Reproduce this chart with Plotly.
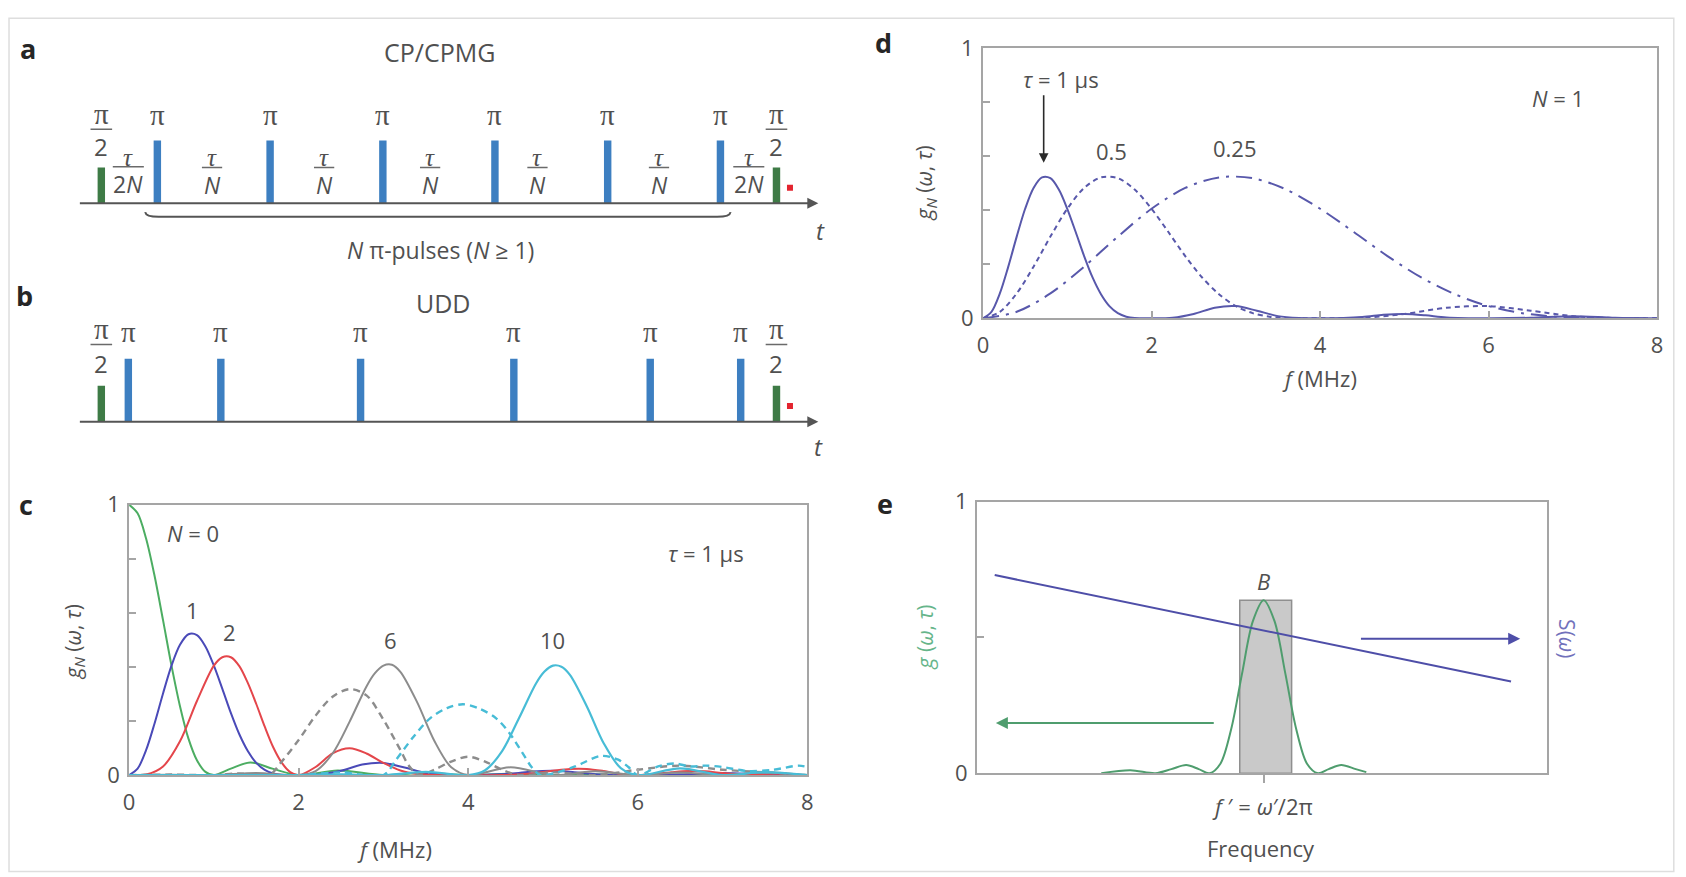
import plotly.graph_objects as go

W, H = 1686, 877

# ---------------- data ----------------
# panel a / b : pulse sequences, time in units of tau
cp_pi_times = [0.083, 0.25, 0.417, 0.583, 0.75, 0.917]
udd_pi_times = [0.04, 0.177, 0.384, 0.611, 0.813, 0.947]
half_pi_times = [0.0, 1.0]
pi_amplitude = 1.0
half_pi_amplitude = 0.57
readout_t = [1.02]
readout_y = [0.25]
cp_gap_label_t = [0.164, 0.33, 0.487, 0.646, 0.826]
half_gap_label_t = [0.04, 0.959]

# panel c : g_N(w, tau), tau = 1 us
f_n0 = [0, 0.1, 0.2, 0.3, 0.4, 0.5, 0.6, 0.7, 0.8, 0.9, 1.0, 1.2, 1.43, 1.7, 2.0, 2.46, 3.0, 3.47, 4.0, 4.48,
        5.0, 5.48, 6.0, 6.5, 7.0, 7.5, 8.0]
g_n0 = [1.0, 0.968, 0.875, 0.737, 0.573, 0.405, 0.255, 0.135, 0.055, 0.012, 0.0, 0.024, 0.047, 0.023, 0.0, 0.017,
        0.0, 0.008, 0.0, 0.005, 0.0, 0.003, 0.0, 0.002, 0.0, 0.002, 0.0]
f_n1 = [0, 0.1, 0.2, 0.3, 0.4, 0.5, 0.6, 0.7, 0.8, 0.9, 1.0, 1.1, 1.2, 1.3, 1.4, 1.5, 1.6, 1.7, 1.8, 2.0, 2.25,
        2.5, 2.75, 3.0, 3.25, 3.5, 3.75, 4.0, 4.5, 4.75, 5.0, 5.25, 5.5, 6.0, 6.5, 7.0, 7.5, 8.0]
g_n1 = [0, 0.024, 0.092, 0.191, 0.302, 0.405, 0.482, 0.521, 0.518, 0.476, 0.405, 0.319, 0.230, 0.151, 0.089,
        0.045, 0.019, 0.006, 0.001, 0.0, 0.002, 0.016, 0.039, 0.045, 0.028, 0.008, 0.001, 0.0, 0.005, 0.013,
        0.016, 0.011, 0.003, 0.0, 0.002, 0.008, 0.002, 0.0]
f_n2 = [0, 0.2, 0.4, 0.6, 0.8, 1.0, 1.1, 1.2, 1.3, 1.4, 1.5, 1.6, 1.7, 1.8, 1.9, 2.0, 2.2, 2.4, 2.6, 2.8, 3.0,
        3.2, 3.4, 3.6, 4.0, 4.4, 4.8, 5.0, 5.2, 5.4, 5.6, 5.8, 6.0, 6.4, 6.6, 6.8, 7.0, 7.4, 8.0]
g_n2 = [0, 0.002, 0.032, 0.125, 0.274, 0.405, 0.436, 0.436, 0.403, 0.341, 0.263, 0.179, 0.103, 0.046, 0.011,
        0.0, 0.030, 0.080, 0.099, 0.080, 0.045, 0.017, 0.004, 0.0, 0.0, 0.0, 0.008, 0.016, 0.023, 0.023, 0.015,
        0.004, 0.0, 0.011, 0.015, 0.014, 0.008, 0.001, 0.0]
f_n6 = [0, 0.5, 1.0, 1.5, 2.0, 2.2, 2.4, 2.6, 2.8, 2.9, 3.0, 3.1, 3.2, 3.4, 3.6, 3.8, 4.0, 4.5, 5.0, 5.5, 6.0,
        6.5, 7.0, 7.5, 8.0]
g_n6 = [0, 0.001, 0.0, 0.008, 0.0, 0.015, 0.080, 0.197, 0.328, 0.377, 0.405, 0.408, 0.382, 0.268, 0.127, 0.029,
        0.0, 0.029, 0.0, 0.014, 0.0, 0.010, 0.0, 0.011, 0.0]
f_n10 = [0, 1, 2, 2.5, 3, 3.5, 4.0, 4.2, 4.4, 4.6, 4.8, 4.9, 5.0, 5.1, 5.2, 5.4, 5.6, 5.8, 6.0, 6.5, 7.0, 7.5, 8.0]
g_n10 = [0, 0, 0, 0.003, 0, 0.012, 0, 0.018, 0.089, 0.211, 0.339, 0.383, 0.405, 0.401, 0.371, 0.254, 0.117,
         0.026, 0, 0.025, 0, 0.011, 0]
f_gray_dash = [0, 0.5, 1.0, 1.3, 1.65, 1.8, 2.0, 2.2, 2.4, 2.6, 2.8, 3.0, 3.2, 3.3, 3.42, 3.6, 3.8, 4.0, 4.2, 4.4,
               4.6, 5.0, 5.5, 6.0, 6.5, 7.0, 7.5, 8.0]
g_gray_dash = [0, 0.002, 0, 0.006, 0, 0.05, 0.13, 0.22, 0.29, 0.318, 0.295, 0.205, 0.093, 0.035, 0, 0.02, 0.05,
               0.068, 0.05, 0.02, 0, 0.01, 0, 0.02, 0.035, 0.02, 0.01, 0]
f_cyan_dash = [0, 1, 2, 2.5, 3.0, 3.15, 3.35, 3.55, 3.75, 3.94, 4.13, 4.33, 4.49, 4.64, 4.75, 4.85, 5.0, 5.26,
               5.57, 5.77, 5.89, 6.0, 6.24, 6.43, 6.62, 6.8, 7.0, 7.3, 7.6, 7.9, 8.0]
g_cyan_dash = [0, 0, 0, 0.01, 0, 0.057, 0.14, 0.21, 0.248, 0.262, 0.246, 0.21, 0.154, 0.082, 0.029, 0, 0.006,
               0.032, 0.071, 0.057, 0.03, 0, 0.032, 0.043, 0.032, 0.035, 0.03, 0.015, 0.02, 0.035, 0.03]

# panel d : N = 1, tau = 1, 0.5, 0.25 us
f_tau1 = f_n1
g_tau1 = g_n1
f_tau05 = [0, 0.2, 0.4, 0.6, 0.8, 1.0, 1.2, 1.4, 1.6, 1.8, 2.0, 2.2, 2.4, 2.6, 2.8, 3.0, 3.2, 3.4, 3.6, 4.0, 4.5,
           5.0, 5.5, 6.0, 6.5, 7.0, 7.5, 8.0]
g_tau05 = [0, 0.024, 0.092, 0.191, 0.302, 0.405, 0.482, 0.521, 0.518, 0.476, 0.405, 0.319, 0.230, 0.151, 0.089,
           0.045, 0.019, 0.006, 0.001, 0.0, 0.002, 0.016, 0.039, 0.045, 0.028, 0.008, 0.001, 0.0]
f_tau025 = [0, 0.4, 0.8, 1.2, 1.6, 2.0, 2.4, 2.8, 3.2, 3.6, 4.0, 4.4, 4.8, 5.2, 5.6, 6.0, 6.4, 6.8, 7.2, 8.0]
g_tau025 = [0, 0.024, 0.092, 0.191, 0.302, 0.405, 0.482, 0.521, 0.518, 0.476, 0.405, 0.319, 0.230, 0.151, 0.089,
            0.045, 0.019, 0.006, 0.001, 0.0]

# panel e : filter g(w,tau) and noise spectrum S(w), arbitrary frequency units
freq_e = [2.18, 2.69, 3.13, 3.41, 3.67, 3.89, 4.08, 4.27, 4.46, 4.65, 4.84, 5.03, 5.22, 5.41, 5.60, 5.79, 5.98,
          6.17, 6.39, 6.645, 6.83]
g_e = [0, 0.011, 0, 0.015, 0.030, 0.015, 0, 0.035, 0.163, 0.367, 0.56, 0.637, 0.56, 0.367, 0.163, 0.035, 0,
       0.015, 0.030, 0.015, 0.004]
freq_s = [0.31, 9.37]
s_e = [0.73, 0.338]
band_center = [5.065]
band_width = 0.91
band_height = [0.637]
f_prime = 5.03

# ---------------- styles ----------------
SANS = "Open Sans, Noto Sans, sans-serif"
SERIF = "Liberation Serif, DejaVu Serif, serif"
TXT = "#505050"
FRAME = "#a5a5a5"
BLUE_P, GREEN_P, RED_P = "#3d7fc1", "#3e7b46", "#e3242f"
C_N0, C_N1, C_N2, C_N6, C_N10 = "#4cad62", "#4a4ab8", "#e4464b", "#8c8c8c", "#47bcd6"
C_D = "#5858ab"
C_EB, C_EG = "#4e4ea8", "#4f9d6e"

fig = go.Figure()

# ---- panel a ----
fig.add_trace(go.Bar(x=cp_pi_times, y=[pi_amplitude] * len(cp_pi_times), width=0.011,
                     marker=dict(color=BLUE_P, line_width=0), xaxis="x", yaxis="y"))
fig.add_trace(go.Bar(x=half_pi_times, y=[half_pi_amplitude] * len(half_pi_times), width=0.011,
                     marker=dict(color=GREEN_P, line_width=0), xaxis="x", yaxis="y"))
fig.add_trace(go.Scatter(x=readout_t, y=readout_y, mode="markers",
                         marker=dict(symbol="square", size=6, color=RED_P), xaxis="x", yaxis="y"))
# ---- panel b ----
fig.add_trace(go.Bar(x=udd_pi_times, y=[pi_amplitude] * len(udd_pi_times), width=0.011,
                     marker=dict(color=BLUE_P, line_width=0), xaxis="x2", yaxis="y2"))
fig.add_trace(go.Bar(x=half_pi_times, y=[half_pi_amplitude] * len(half_pi_times), width=0.011,
                     marker=dict(color=GREEN_P, line_width=0), xaxis="x2", yaxis="y2"))
fig.add_trace(go.Scatter(x=readout_t, y=readout_y, mode="markers",
                         marker=dict(symbol="square", size=6, color=RED_P), xaxis="x2", yaxis="y2"))


# ---- panel c ----
def curve(x, y, color, ax, width=2.0, dash="solid"):
    fig.add_trace(go.Scatter(x=x, y=y, mode="lines", xaxis="x" + ax, yaxis="y" + ax,
                             line=dict(color=color, width=width, dash=dash, shape="spline", smoothing=0.9)))


curve(f_n0, g_n0, C_N0, "3")
curve(f_n1, g_n1, C_N1, "3")
curve(f_n2, g_n2, C_N2, "3")
curve(f_n6, g_n6, C_N6, "3")
curve(f_gray_dash, g_gray_dash, C_N6, "3", 2.4, "7px,5px")
curve(f_cyan_dash, g_cyan_dash, C_N10, "3", 2.4, "7px,5px")
curve(f_n10, g_n10, C_N10, "3", 2.2)

# ---- panel d ----
curve(f_tau1, g_tau1, C_D, "4", 2.0)
curve(f_tau05, g_tau05, C_D, "4", 2.0, "5px,4px")
curve(f_tau025, g_tau025, C_D, "4", 2.0, "16px,7px,3px,7px")

# ---- panel e ----
fig.add_trace(go.Bar(x=band_center, y=band_height, width=band_width, xaxis="x5", yaxis="y5",
                     marker=dict(color="#c9c9c9", line=dict(color="#8f8f8f", width=1.5))))
fig.add_trace(go.Scatter(x=freq_e, y=g_e, mode="lines", xaxis="x5", yaxis="y5",
                         line=dict(color=C_EG, width=2, shape="spline", smoothing=0.9)))
fig.add_trace(go.Scatter(x=freq_s, y=s_e, mode="lines", xaxis="x5", yaxis="y5",
                         line=dict(color=C_EB, width=2)))

# ---------------- annotations ----------------
anns = []
shapes = []


def P(xp, yp):
    return xp / W, 1 - yp / H


def text(t, x, y, xref="paper", yref="paper", size=22, color=TXT, family=SANS, angle=0, **kw):
    anns.append(dict(text=t, x=x, y=y, xref=xref, yref=yref, showarrow=False, textangle=angle,
                     font=dict(size=size, color=color, family=family), xanchor="center", yanchor="middle", **kw))


def ptext(t, xp, yp, **kw):
    x, y = P(xp, yp)
    text(t, x, y, **kw)


def frac(num, den, t, ax, y_num, y_bar, y_den, half_w, size=21, num_size=None, num_family=SERIF,
         den_family=SANS):
    text(num, t, y_num, xref="x" + ax, yref="y" + ax, size=num_size or size, family=num_family)
    text(den, t, y_den, xref="x" + ax, yref="y" + ax, size=size, family=den_family)
    shapes.append(dict(type="line", xref="x" + ax, yref="y" + ax, x0=t - half_w, x1=t + half_w,
                       y0=y_bar, y1=y_bar, line=dict(color="#6a6a6a", width=1.5)))


# panel letters and titles
for letter, xp, yp in [("a", 22, 34), ("b", 19, 289), ("c", 20, 506), ("d", 884, 27), ("e", 885, 505)]:
    ptext("<b>%s</b>" % letter, xp, yp, size=27, color="#262626")
ptext("CP/CPMG", 437, 37, size=25)
ptext("UDD", 441, 297, size=25)

# panel a labels
for t in cp_pi_times:
    text("π", t, 1.40, xref="x", yref="y", size=29, family=SERIF)
for t in half_pi_times:
    frac("π", "2", t, "", 1.42, 1.18, 0.90, 0.016, size=24, num_size=29)
for t in half_gap_label_t:
    frac("<i>τ</i>", "2<i>N</i>", t, "", 0.73, 0.585, 0.31, 0.023, size=23, num_size=25)
for t in cp_gap_label_t:
    frac("<i>τ</i>", "<i>N</i>", t, "", 0.73, 0.57, 0.29, 0.015, size=23, num_size=25)
text("<i>t</i>", 1.065, -0.43, xref="x", yref="y", size=24)
text("<i>N</i> π-pulses (<i>N</i> ≥ 1)", 0.503, -0.74, xref="x", yref="y", size=23)
anns.append(dict(x=1.062, y=0, ax=-0.034, ay=0, xref="x", yref="y", axref="x", ayref="y", text="",
                 showarrow=True, arrowhead=2, arrowsize=1.1, arrowwidth=2, arrowcolor="#555555"))
shapes.append(dict(type="path", xref="x", yref="y",
                   path="M 0.065,-0.14 Q 0.066,-0.215 0.085,-0.215 L 0.912,-0.215 Q 0.931,-0.215 0.932,-0.14",
                   line=dict(color="#555555", width=2)))

# panel b labels
for t in udd_pi_times:
    text("π", t, 1.43, xref="x2", yref="y2", size=29, family=SERIF)
for t in half_pi_times:
    frac("π", "2", t, "2", 1.47, 1.23, 0.93, 0.016, size=24, num_size=29)
text("<i>t</i>", 1.062, -0.40, xref="x2", yref="y2", size=24)
anns.append(dict(x=1.062, y=0, ax=-0.034, ay=0, xref="x2", yref="y2", axref="x2", ayref="y2", text="",
                 showarrow=True, arrowhead=2, arrowsize=1.1, arrowwidth=2, arrowcolor="#555555"))

# panel c labels
text("<i>N</i> = 0", 0.75, 0.896, xref="x3", yref="y3")
text("1", 0.75, 0.61, xref="x3", yref="y3")
text("2", 1.19, 0.53, xref="x3", yref="y3")
text("6", 3.08, 0.50, xref="x3", yref="y3")
text("10", 4.99, 0.50, xref="x3", yref="y3")
text("<i>τ</i> = 1 µs", 6.8, 0.82, xref="x3", yref="y3")
ptext("<i>f</i> (MHz)", 391, 862)
ptext("<i>g</i><sub><i>N</i></sub> (<i>ω</i>, <i>τ</i>)", 68, 648, angle=-90, size=21)

# panel d labels
text("<i>τ</i> = 1 µs", 0.92, 0.886, xref="x4", yref="y4")
anns.append(dict(x=0.72, y=0.575, ax=0.72, ay=0.83, xref="x4", yref="y4", axref="x4", ayref="y4", text="",
                 showarrow=True, arrowhead=2, arrowsize=1.2, arrowwidth=1.6, arrowcolor="#2a2a2a"))
text("0.5", 1.52, 0.618, xref="x4", yref="y4")
text("0.25", 2.99, 0.629, xref="x4", yref="y4")
text("<i>N</i> = 1", 6.82, 0.814, xref="x4", yref="y4")
ptext("<i>f</i> (MHz)", 1323, 375)
ptext("<i>g</i><sub><i>N</i></sub> (<i>ω</i>, <i>τ</i>)", 926, 173, angle=-90, size=21)

# panel e labels
text("<i>B</i>", f_prime, 0.708, xref="x5", yref="y5", size=22)
anns.append(dict(x=0.33, y=0.185, ax=4.18, ay=0.185, xref="x5", yref="y5", axref="x5", ayref="y5", text="",
                 showarrow=True, arrowhead=2, arrowsize=1.2, arrowwidth=2, arrowcolor=C_EG))
anns.append(dict(x=9.53, y=0.495, ax=6.71, ay=0.495, xref="x5", yref="y5", axref="x5", ayref="y5", text="",
                 showarrow=True, arrowhead=2, arrowsize=1.2, arrowwidth=2, arrowcolor=C_EB))
ptext("<i>f</i> ′ = <i>ω</i>′/2π", 1266, 818)
ptext("Frequency", 1264, 861)
ptext("<i>g</i> (<i>ω</i>, <i>τ</i>)", 926, 643, angle=-90, size=21, color="#66b58a")
ptext("S(<i>ω</i>)", 1572, 645, angle=90, size=21, color="#7171bb")

# outer light frame
shapes.append(dict(type="rect", xref="paper", yref="paper", x0=0.0018, x1=0.9963, y0=-0.01, y1=0.9972,
                   line=dict(color="#dedede", width=1.5)))

# ---------------- axes ----------------
# schematic axes: 680 px per unit of tau in x, 65 px per unit amplitude in y
sch_x = dict(range=[-0.14118, 1.09853], visible=False, fixedrange=True)
box = dict(showline=True, mirror=True, linecolor=FRAME, linewidth=2, showgrid=False, zeroline=False,
           ticks="inside", tickcolor=FRAME, ticklen=7, tickwidth=1.5,
           tickfont=dict(family=SANS, size=22, color=TXT))
ytick = dict(tickvals=[0, 0.2, 0.4, 0.6, 0.8, 1.0], ticktext=["0", "", "", "", "", "1"], ticklabelstandoff=3)

fig.update_layout(
    width=W, height=H, margin=dict(l=0, r=0, t=0, b=0),
    paper_bgcolor="white", plot_bgcolor="rgba(0,0,0,0)", showlegend=False, barmode="overlay",
    font=dict(family=SANS, color=TXT),
    xaxis=dict(domain=[0, 0.5], anchor="y", **sch_x),
    yaxis=dict(domain=[0.71209, 0.90479], anchor="x", range=[-0.9, 1.7], visible=False, fixedrange=True),
    xaxis2=dict(domain=[0, 0.5], anchor="y2", **sch_x),
    yaxis2=dict(domain=[0.46180, 0.64709], anchor="x2", range=[-0.8, 1.7], visible=False, fixedrange=True),
    xaxis3=dict(domain=[0.07355, 0.47865], anchor="y3", range=[0, 8], tickvals=[0, 2, 4, 6, 8],
                ticklabelstandoff=6, **box),
    yaxis3=dict(domain=[0.10376, 0.42303], anchor="x3", range=[0, 1], **ytick, **box),
    xaxis4=dict(domain=[0.58363, 0.98636], anchor="y4", range=[0, 8], tickvals=[0, 2, 4, 6, 8],
                ticklabelstandoff=6, **box),
    yaxis4=dict(domain=[0.64310, 0.96237], anchor="x4", range=[0, 1], **ytick, **box),
    xaxis5=dict(domain=[0.58007, 0.92052], anchor="y5", range=[0, 10],
                **{**box, "ticks": "outside", "tickvals": [f_prime], "ticktext": [""], "ticklen": 8}),
    yaxis5=dict(domain=[0.10604, 0.42645], anchor="x5", range=[0, 1],
                **{**box, "tickvals": [0, 0.5, 1], "ticktext": ["0", "", "1"], "ticklabelstandoff": 3}),
    annotations=anns, shapes=shapes,
)

fig.write_html("out.html", config={"displayModeBar": False},
               post_script="document.body.style.margin='0';")
